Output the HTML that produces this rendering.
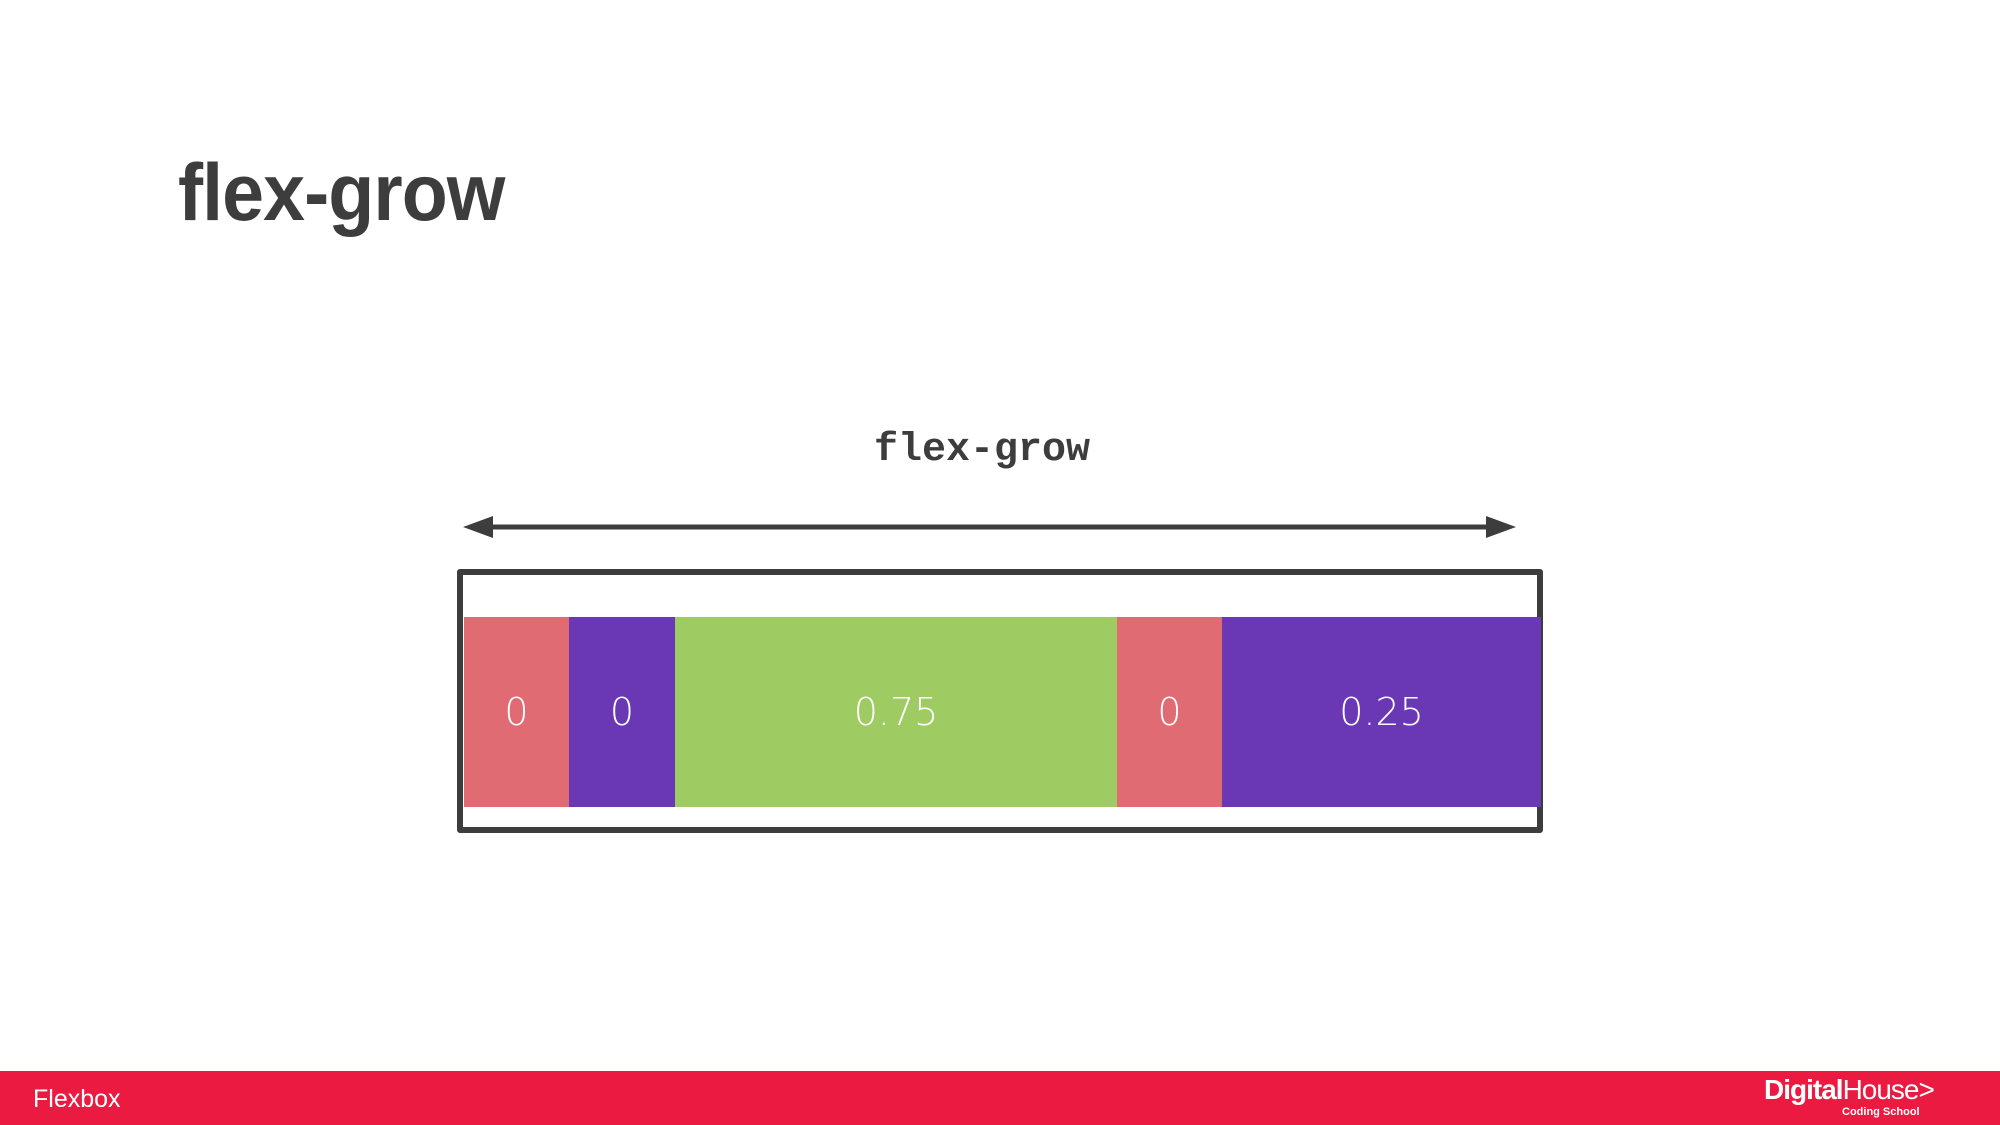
<!DOCTYPE html>
<html><head><meta charset="utf-8"><style>
body{margin:0;width:2000px;height:1125px;position:relative;background:#fff;overflow:hidden;font-family:"Liberation Sans",sans-serif}
.abs{position:absolute}
.title{left:178px;top:147px;font-size:81px;font-weight:bold;color:#3d3d3d;letter-spacing:-1px;transform:scaleX(0.93);transform-origin:left}
.lbl{left:782px;top:428px;width:400px;text-align:center;font-family:"Liberation Mono",monospace;font-size:40px;font-weight:bold;color:#3d3d3d}
.box{left:457px;top:569px;width:1074px;height:252px;border:6px solid #3d3d3d;border-radius:3px}
.item{top:617px;height:190px;color:#fff;font-size:38px;display:flex;align-items:center;justify-content:center;font-family:"DejaVu Sans","Liberation Sans",sans-serif;font-weight:300}
.footer{left:0;top:1071px;width:2000px;height:54px;background:#eb1a40}
</style></head><body>
<div class="abs title">flex-grow</div>
<div class="abs lbl">flex-grow</div>
<svg class="abs" style="left:0;top:0" width="2000" height="1125">
<line x1="480" y1="527" x2="1498" y2="527" stroke="#3d3d3d" stroke-width="5"/>
<polygon points="463,527 493,516 493,538" fill="#3d3d3d"/>
<polygon points="1516,527 1486,516 1486,538" fill="#3d3d3d"/>
</svg>
<div class="abs box"></div>
<div class="abs item" style="left:464px;width:105px;background:#e06b73">0</div>
<div class="abs item" style="left:569px;width:106px;background:#6a38b4">0</div>
<div class="abs item" style="left:675px;width:442px;background:#9ecc63">0.75</div>
<div class="abs item" style="left:1117px;width:105px;background:#e06b73">0</div>
<div class="abs item" style="left:1222px;width:319px;background:#6a38b4">0.25</div>
<div class="abs footer"></div>
<div class="abs" style="left:33px;top:1085px;font-size:25px;color:#fff">Flexbox</div>
<div class="abs" style="left:1764px;top:1074px;font-size:28px;color:#fff;letter-spacing:-1px"><b>Digital</b>House&gt;</div>
<div class="abs" style="left:1842px;top:1106px;font-size:11px;color:#fff;font-weight:bold">Coding School</div>
</body></html>
